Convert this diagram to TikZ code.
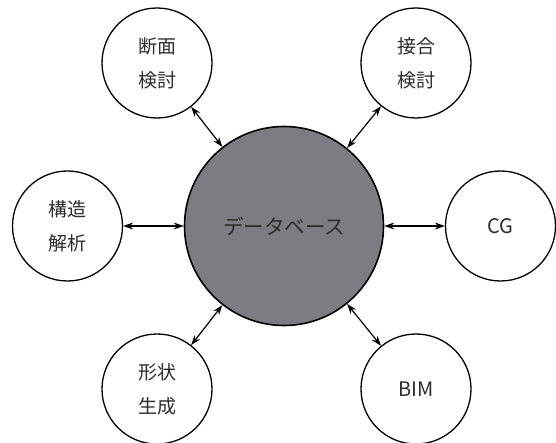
\documentclass[tikz,border=0pt]{standalone}
\usepackage{fontspec}
\setmainfont{Noto Sans CJK JP}
\usetikzlibrary{arrows.meta}
\definecolor{dbgray}{RGB}{124,125,130}
\definecolor{txt}{RGB}{45,45,45}
\begin{document}
\begin{tikzpicture}[x=1pt,y=-1pt,
  small/.style={circle,draw=black,line width=1.3pt,fill=white,minimum size=110pt,inner sep=0pt,
    font=\fontsize{19}{34}\selectfont,text=txt,align=center},
  big/.style={circle,draw=black,line width=1.6pt,fill=dbgray,minimum size=199pt,inner sep=0pt,
    font=\fontsize{20.5}{24}\selectfont,text=txt},
  link/.style={<->,>={Stealth[length=10pt,width=7pt]},line width=1.2pt,black}]
\useasboundingbox (0,0) rectangle (556,443);
\node[big] (db) at (284,226) {データベース};
\node[small] (dm) at (157,63) {断面\\検討};
\node[small] (sg) at (416,63) {接合\\検討};
\node[small] (kz) at (67.5,226) {構造\\解析};
\node[small,font=\fontsize{20}{24}\selectfont] (cg) at (500.5,226) {CG};
\node[small] (ks) at (157,389) {形状\\生成};
\node[small,font=\fontsize{20}{24}\selectfont] (bim) at (416,389) {BIM};
\draw[link] (dm) -- (db);
\draw[link] (sg) -- (db);
\draw[link] (kz) -- (db);
\draw[link] (cg) -- (db);
\draw[link] (ks) -- (db);
\draw[link] (bim) -- (db);
\end{tikzpicture}
\end{document}
